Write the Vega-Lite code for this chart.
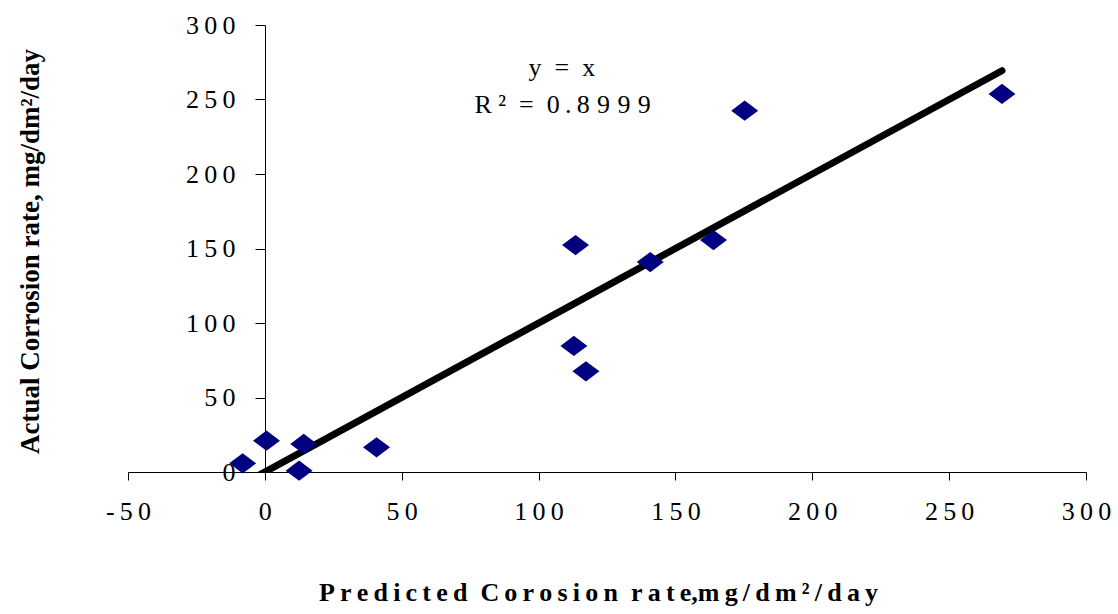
{
  "$schema": "https://vega.github.io/schema/vega-lite/v6.json",
  "width": 958,
  "height": 447,
  "autosize": {"type": "none"},
  "padding": {"left": 128, "top": 25, "right": 32, "bottom": 142},
  "background": "white",
  "config": {
    "view": {"stroke": null},
    "axis": {
      "grid": false,
      "labelFlush": false,
      "labelOverlap": false,
      "domainColor": "black",
      "domainWidth": 1,
      "tickColor": "black",
      "tickWidth": 1,
      "labelFont": "Liberation Serif",
      "labelColor": "black",
      "titleFont": "Liberation Serif",
      "titleColor": "black",
      "titleFontWeight": "bold"
    }
  },
  "datasets": {
    "points": [
      {"predicted": -8.1, "actual": 5.8},
      {"predicted": 0.6, "actual": 21.0},
      {"predicted": 14.2, "actual": 18.8},
      {"predicted": 12.5, "actual": 0.9},
      {"predicted": 40.8, "actual": 16.6},
      {"predicted": 113.5, "actual": 152.3},
      {"predicted": 112.9, "actual": 84.6},
      {"predicted": 117.3, "actual": 67.6},
      {"predicted": 140.8, "actual": 140.9},
      {"predicted": 163.9, "actual": 155.7},
      {"predicted": 175.3, "actual": 242.5},
      {"predicted": 269.3, "actual": 253.7}
    ],
    "fit": [
      {"predicted": -8.1, "actual": -8.1},
      {"predicted": 269.3, "actual": 269.3}
    ],
    "notes": [
      {"predicted": 108.5, "actual": 271, "label": "y\u00a0\u00a0=\u00a0\u00a0x"},
      {"predicted": 108.8, "actual": 246, "label": "R\u00a0²\u00a0\u00a0=\u00a0\u00a00\u2009.\u20098\u2009\u200a9\u2009\u200a9\u2009\u200a9"}
    ]
  },
  "layer": [
    {
      "data": {"name": "fit"},
      "mark": {"type": "line", "color": "black", "strokeWidth": 7, "strokeCap": "round", "clip": true},
      "encoding": {
        "x": {"field": "predicted", "type": "quantitative", "scale": {"domain": [-50, 300], "nice": false, "zero": false},
          "axis": {
            "orient": "bottom",
            "values": [-50, 0, 50, 100, 150, 200, 250, 300],
            "tickSize": 8,
            "labelFontSize": 26,
            "labelPadding": 18,
            "labelExpr": "join(split(toString(datum.value), ''), '\u2009')",
            "title": "P\u2009r\u2009e\u2009d\u2009i\u2009c\u2009t\u2009e\u2009d\u00a0\u00a0C\u2009o\u2009r\u2009o\u2009s\u2009i\u2009o\u2009n\u00a0\u00a0r\u2009a\u2009t\u2009e,m\u2009g\u2009/\u2009d\u2009m\u2009²\u2009/\u2009d\u2009a\u2009y",
            "titleFontSize": 26,
            "titleX": 470,
            "titleY": 120,
            "titleBaseline": "middle"
          }
        },
        "y": {"field": "actual", "type": "quantitative", "scale": {"domain": [0, 300], "nice": false},
          "axis": {
            "orient": "left",
            "offset": -137,
            "values": [0, 50, 100, 150, 200, 250, 300],
            "tickSize": 10,
            "labelFontSize": 26,
            "labelPadding": 20,
            "labelExpr": "join(split(toString(datum.value), ''), '\u2009')",
            "title": "Actual Corrosion rate, mg/dm²/day",
            "titleFontSize": 27,
            "titleX": -235,
            "titleY": 226,
            "titleBaseline": "middle"
          }
        }
      }
    },
    {
      "data": {"name": "points"},
      "mark": {"type": "point", "shape": "M-1,0L0,-0.75L1,0L0,0.75Z", "filled": true, "color": "#000080", "opacity": 1, "size": 729},
      "encoding": {
        "x": {"field": "predicted", "type": "quantitative"},
        "y": {"field": "actual", "type": "quantitative"}
      }
    },
    {
      "data": {"name": "notes"},
      "mark": {"type": "text", "font": "Liberation Serif", "fontSize": 26, "color": "black", "align": "center", "baseline": "middle"},
      "encoding": {
        "x": {"field": "predicted", "type": "quantitative"},
        "y": {"field": "actual", "type": "quantitative"},
        "text": {"field": "label"}
      }
    }
  ]
}
